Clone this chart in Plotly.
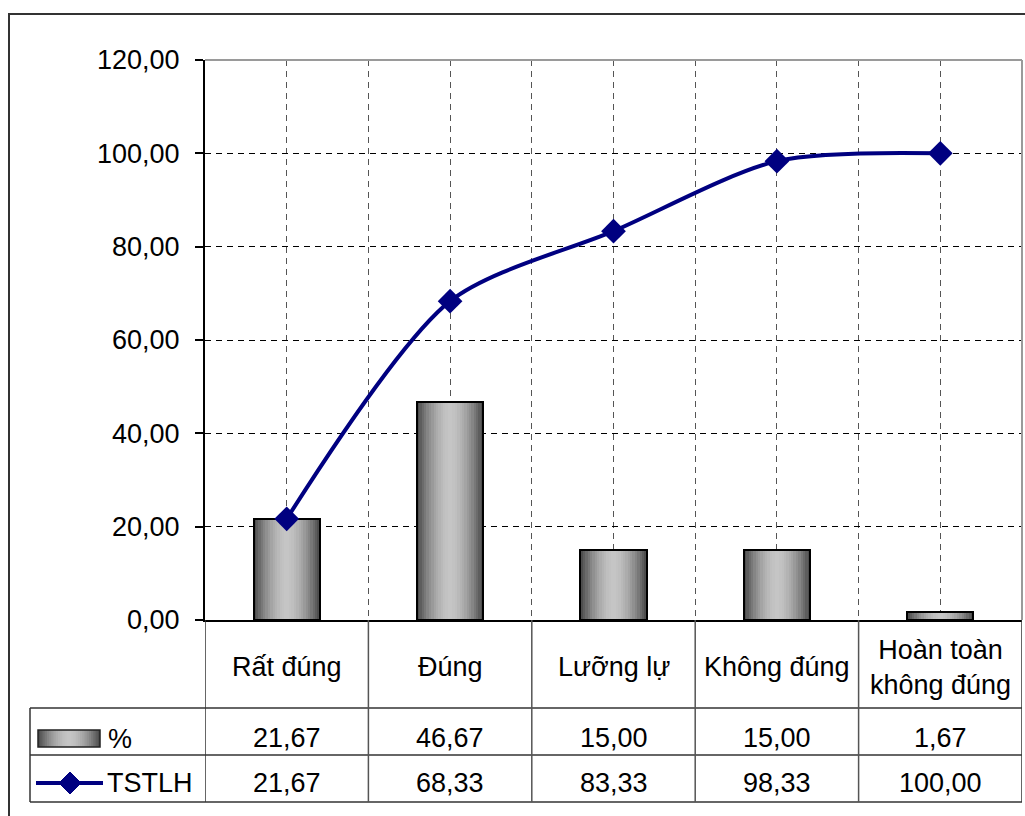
import plotly.graph_objects as go

# ---- data ----
categories = ["Rất đúng", "Đúng", "Lưỡng lự", "Không đúng", "Hoàn toàn<br>không đúng"]
percent = [21.67, 46.67, 15.00, 15.00, 1.67]
tstlh = [21.67, 68.33, 83.33, 98.33, 100.00]
series_names = ["%", "TSTLH"]
y_ticks = [0, 20, 40, 60, 80, 100, 120]

# ---- geometry of the page (pixels) ----
W, H = 1025, 816
PL, PR, PT, PB = 205, 1022, 60, 620          # plot area edges
FONT = "Liberation Sans, Arial, sans-serif"
FS = 27
NAVY = "#000080"


def px(x):
    return (x - PL) / (PR - PL)


def py(y):
    return (PB - y) / (PB - PT)


def fmt(v):
    return f"{v:.2f}".replace(".", ",")


xs = list(range(len(categories)))
fig = go.Figure()

# cylinder-like bars: nested overlaid bars, dark at the edges, light in the middle
BAR_W = 0.405
N_LAYERS = 14
edge_rgb, mid_rgb = 78, 198


def shade(d):
    v = int(round(mid_rgb - (mid_rgb - edge_rgb) * d ** 1.8))
    return f"rgb({v},{v},{v})"


for i in range(N_LAYERS):
    frac = 1 - i / N_LAYERS
    fig.add_trace(go.Bar(
        x=xs, y=percent, width=BAR_W * frac,
        marker=dict(color=shade(frac),
                    line=dict(color="black" if i == 0 else shade(frac), width=2 if i == 0 else 0)),
        showlegend=False, hoverinfo="skip" if i else None, name=series_names[0],
    ))

# redraw the outline on top
fig.add_trace(go.Bar(
    x=xs, y=percent, width=BAR_W,
    marker=dict(color="rgba(0,0,0,0)", line=dict(color="black", width=2)),
    showlegend=False, hoverinfo="skip",
))

fig.add_trace(go.Scatter(
    x=xs, y=tstlh, mode="lines+markers", name=series_names[1],
    line=dict(color=NAVY, width=4, shape="spline", smoothing=0.8),
    marker=dict(symbol="diamond", size=19, color=NAVY),
    showlegend=False,
))

shapes = []
annotations = []

# plot-area border (top / right) in grey
shapes.append(dict(type="line", xref="paper", yref="paper", x0=0, x1=1, y0=1, y1=1,
                   line=dict(color="#9a9a9a", width=2), layer="above"))
shapes.append(dict(type="line", xref="paper", yref="paper", x0=1, x1=1, y0=0, y1=1,
                   line=dict(color="#9a9a9a", width=2), layer="above"))

# outer chart frame
shapes.append(dict(type="rect", xref="paper", yref="paper",
                   x0=px(9), x1=px(1040), y0=py(14), y1=py(840),
                   line=dict(color="#333333", width=2), fillcolor="rgba(0,0,0,0)"))

# data table grid
LINE = dict(color="#333333", width=1.5)
for yy in (708, 755, 802):
    shapes.append(dict(type="line", xref="paper", yref="paper",
                       x0=px(30), x1=px(PR), y0=py(yy), y1=py(yy), line=LINE))
shapes.append(dict(type="line", xref="paper", yref="paper",
                   x0=px(30), x1=px(30), y0=py(708), y1=py(802), line=LINE))
for k in range(len(categories) + 1):
    shapes.append(dict(type="line", xref="x", yref="paper",
                       x0=k - 0.5, x1=k - 0.5, y0=0, y1=py(802),
                       line=dict(color="#555555" if 0 < k < len(categories) else "#333333", width=1.5)))

# category labels and values
for i, c in enumerate(categories):
    annotations.append(dict(x=i, y=py(667), xref="x", yref="paper", text=c, showarrow=False,
                            font=dict(size=FS, family=FONT, color="black"),
                            xanchor="center", yanchor="middle"))
    annotations.append(dict(x=i, y=py(738), xref="x", yref="paper", text=fmt(percent[i]),
                            showarrow=False, font=dict(size=FS, family=FONT, color="black"),
                            xanchor="center", yanchor="middle"))
    annotations.append(dict(x=i, y=py(783), xref="x", yref="paper", text=fmt(tstlh[i]),
                            showarrow=False, font=dict(size=FS, family=FONT, color="black"),
                            xanchor="center", yanchor="middle"))

# legend keys inside the table
kx0, kx1, ky0, ky1 = 38, 100, 730, 747
kc = (kx0 + kx1) / 2
for i in range(N_LAYERS):
    frac = 1 - i / N_LAYERS
    hw = (kx1 - kx0) / 2 * frac
    shapes.append(dict(type="rect", xref="paper", yref="paper",
                       x0=px(kc - hw), x1=px(kc + hw), y0=py(ky0), y1=py(ky1),
                       fillcolor=shade(frac), line=dict(width=0)))
shapes.append(dict(type="rect", xref="paper", yref="paper",
                   x0=px(kx0), x1=px(kx1), y0=py(ky0), y1=py(ky1),
                   fillcolor="rgba(0,0,0,0)", line=dict(color="#222222", width=1.5)))
annotations.append(dict(x=px(106), y=py(739), xref="paper", yref="paper", text=series_names[0],
                        showarrow=False, font=dict(size=FS, family=FONT, color="black"),
                        xanchor="left", yanchor="middle"))

ly = 783
shapes.append(dict(type="line", xref="paper", yref="paper",
                   x0=px(36), x1=px(103), y0=py(ly), y1=py(ly),
                   line=dict(color=NAVY, width=4)))
dcx, r = 70, 11
diamond = (f"M {px(dcx - r)},{py(ly)} L {px(dcx)},{py(ly - r)} "
           f"L {px(dcx + r)},{py(ly)} L {px(dcx)},{py(ly + r)} Z")
shapes.append(dict(type="path", xref="paper", yref="paper", path=diamond,
                   fillcolor=NAVY, line=dict(color=NAVY, width=1)))
annotations.append(dict(x=px(105), y=py(783), xref="paper", yref="paper", text=series_names[1],
                        showarrow=False, font=dict(size=FS, family=FONT, color="black"),
                        xanchor="left", yanchor="middle"))

fig.update_layout(
    width=W, height=H,
    margin=dict(l=PL, r=W - PR, t=PT, b=H - PB, pad=0),
    paper_bgcolor="white", plot_bgcolor="white",
    barmode="overlay", bargap=0,
    separators=", ",
    font=dict(family=FONT, size=FS, color="black"),
    shapes=shapes, annotations=annotations,
    showlegend=False,
)

grid_ticks = [k * 0.5 - 0.5 for k in range(2 * len(categories) + 1)]
fig.update_xaxes(
    range=[-0.5, len(categories) - 0.5], tickvals=grid_ticks, showticklabels=False,
    ticks="", showgrid=True, gridcolor="#555555", griddash="6px,5px", gridwidth=1,
    showline=True, linecolor="black", linewidth=2, zeroline=False,
)
fig.update_yaxes(
    range=[0, 120], tickvals=y_ticks, tickformat=".2f",
    ticks="outside", ticklen=8, tickcolor="black", tickwidth=1.5,
    ticklabelstandoff=10,
    tickfont=dict(size=FS, family=FONT, color="black"),
    showgrid=True, gridcolor="black", griddash="6px,5px", gridwidth=1,
    showline=True, linecolor="black", linewidth=2, zeroline=False,
)

fig.write_html("out.html")
